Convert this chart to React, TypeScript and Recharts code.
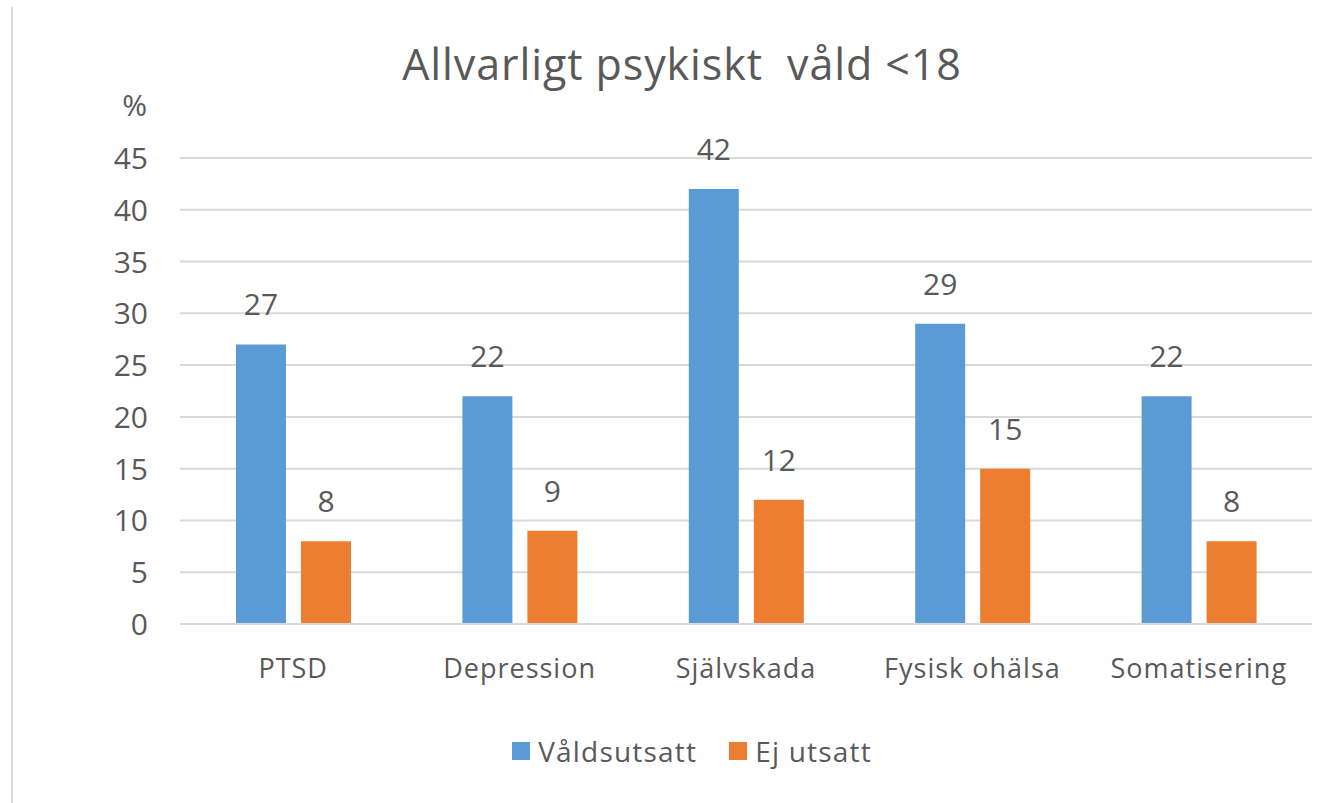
import { BarChart, Bar, XAxis, YAxis, CartesianGrid, LabelList, Legend, Label } from "recharts";

const categories = ["PTSD", "Depression", "Självskada", "Fysisk ohälsa", "Somatisering"];
const valdsutsatt = [27, 22, 42, 29, 22];
const ejUtsatt = [8, 9, 12, 15, 8];
const yTicks = [0, 5, 10, 15, 20, 25, 30, 35, 40, 45];
const seriesNames = ["Våldsutsatt", "Ej utsatt"];

const data = categories.map((name, i) => ({
  name,
  valdsutsatt: valdsutsatt[i],
  ejUtsatt: ejUtsatt[i],
}));

const TEXT = "#595959";
const FONT = "'Open Sans', sans-serif";

function XTick(props: any) {
  const { x, y, payload } = props;
  return (
    <text x={x} y={y + 46} textAnchor="middle" fill={TEXT} fontSize={27} letterSpacing={1} fontFamily={FONT}>
      {payload.value}
    </text>
  );
}

function YTick(props: any) {
  const { y, payload } = props;
  return (
    <text x={148} y={y + 11} textAnchor="end" fill={TEXT} fontSize={30} fontFamily={FONT}>
      {payload.value}
    </text>
  );
}

function LegendContent(props: any) {
  const items = [...(props.payload || [])].sort(
    (a: any, b: any) => seriesNames.indexOf(a.value) - seriesNames.indexOf(b.value)
  );
  return (
    <div style={{ display: "flex", justifyContent: "center", paddingLeft: 46, fontFamily: FONT }}>
      {items.map((it: any) => (
        <div key={it.value} style={{ display: "flex", alignItems: "center", marginRight: 16, marginLeft: 16 }}>
          <div style={{ width: 18, height: 18, background: it.color, marginRight: 8 }} />
          <span style={{ color: TEXT, fontSize: 28, letterSpacing: 1.2, lineHeight: "36px" }}>{it.value}</span>
        </div>
      ))}
    </div>
  );
}

export default function App() {
  return (
    <div style={{ position: "absolute", left: 0, top: 0, width: 1338, height: 803, background: "#fff" }}>
      <div style={{ position: "absolute", left: 11, top: 7, width: 2, height: 796, background: "#d9d9d9" }} />
      <div
        style={{
          position: "absolute",
          left: 0,
          top: 36,
          width: 1364,
          textAlign: "center",
          fontFamily: FONT,
          fontSize: 43,
          letterSpacing: 0.9,
          color: TEXT,
          whiteSpace: "pre",
          lineHeight: "56px",
        }}
      >
        {"Allvarligt psykiskt  våld <18"}
      </div>
      <BarChart
        width={1338}
        height={803}
        data={data}
        margin={{ top: 158, right: 26, bottom: 0, left: 0 }}
        barSize={50}
        barGap={15}
        style={{ position: "absolute", left: 0, top: 0 }}
      >
        <CartesianGrid vertical={false} stroke="#d9d9d9" strokeWidth={2} />
        <XAxis
          dataKey="name"
          height={179}
          axisLine={{ stroke: "#d9d9d9", strokeWidth: 2 }}
          tickLine={false}
          tick={<XTick />}
          interval={0}
        />
        <YAxis
          width={180}
          domain={[0, 45]}
          ticks={yTicks}
          axisLine={false}
          tickLine={false}
          tick={<YTick />}
        >
          <Label
            content={() => (
              <text x={147} y={116} textAnchor="end" fill={TEXT} fontSize={30} fontFamily={FONT}>
                %
              </text>
            )}
          />
        </YAxis>
        <Legend
          verticalAlign="middle"
          layout="horizontal"
          wrapperStyle={{ left: 0, top: 733, width: 1338 }}
          content={<LegendContent />}
        />
        <Bar dataKey="valdsutsatt" name={seriesNames[0]} fill="#5B9BD5" isAnimationActive={false}>
          <LabelList dataKey="valdsutsatt" position="top" offset={29} fill={TEXT} fontSize={30} fontFamily={FONT} />
        </Bar>
        <Bar dataKey="ejUtsatt" name={seriesNames[1]} fill="#ED7D31" isAnimationActive={false}>
          <LabelList dataKey="ejUtsatt" position="top" offset={29} fill={TEXT} fontSize={30} fontFamily={FONT} />
        </Bar>
      </BarChart>
    </div>
  );
}
